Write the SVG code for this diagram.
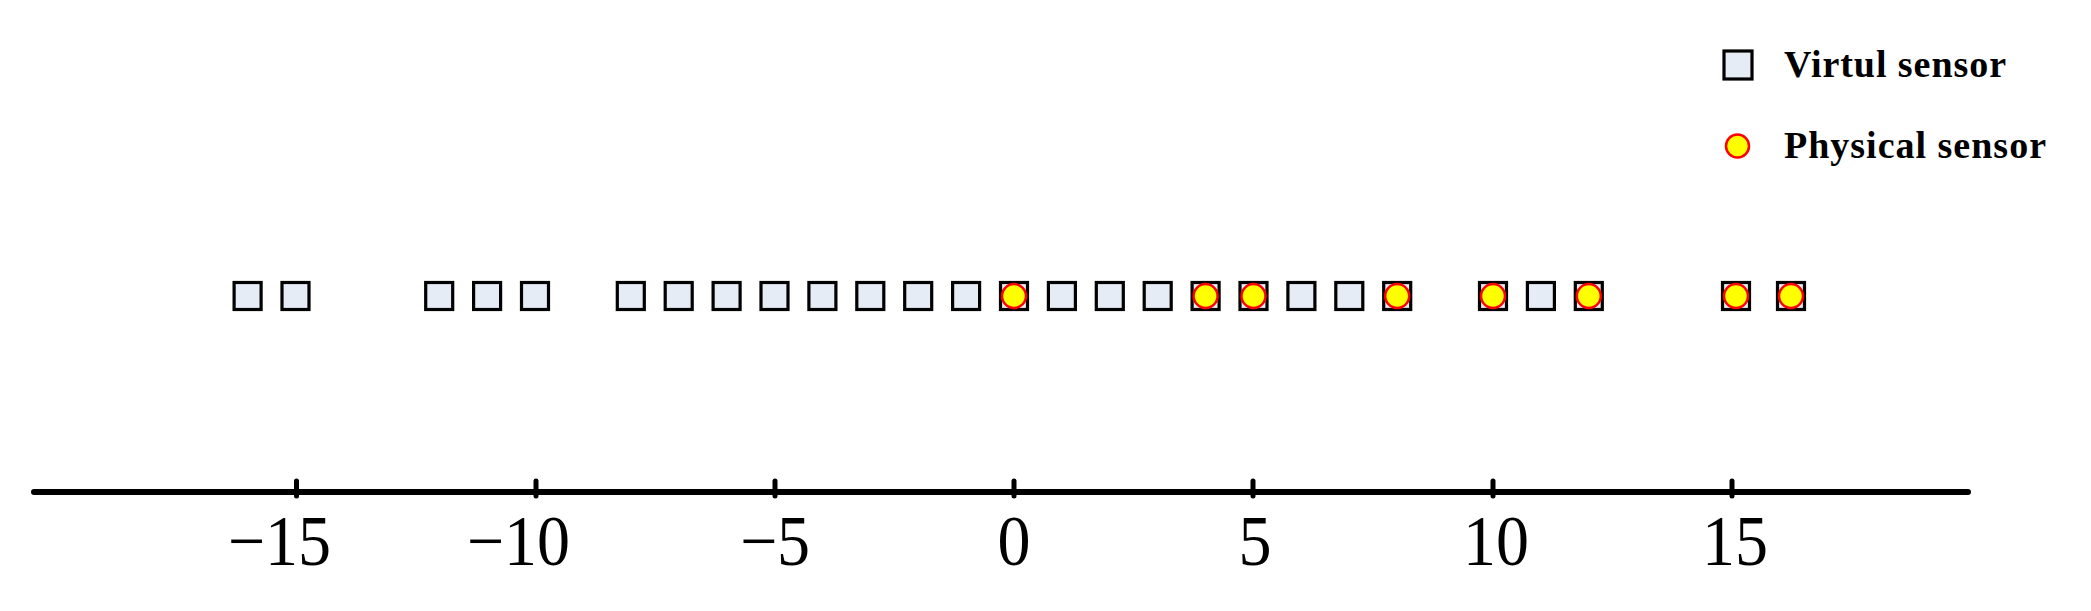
<svg xmlns="http://www.w3.org/2000/svg" width="2091" height="611" viewBox="0 0 2091 611">
<style>
.vs{fill:#E6ECF6;stroke:#000;stroke-width:3.2}
.ps{fill:#FFFF00;stroke:#FF0000;stroke-width:2.5}
.axis{stroke:#000;stroke-width:6;stroke-linecap:round;fill:none}
.tick{stroke:#000;stroke-width:5;stroke-linecap:round}
.tl{font-family:"Liberation Serif","Times New Roman",serif;font-size:71px;fill:#000}
.lg{font-family:"Liberation Serif","Times New Roman",serif;font-size:38px;font-weight:bold;fill:#000}
</style>
<defs>
<rect id="sq" x="-13.5" y="-13.5" width="27" height="27" class="vs"/>
<circle id="ci" r="12" class="ps"/>
</defs>
<rect width="2091" height="611" fill="#fff"/>
<g id="axis">
<line class="axis" x1="34" y1="492" x2="1968" y2="492"/>
<line class="tick" x1="296.5" y1="481" x2="296.5" y2="496"/>
<line class="tick" x1="536" y1="481" x2="536" y2="496"/>
<line class="tick" x1="775" y1="481" x2="775" y2="496"/>
<line class="tick" x1="1014" y1="481" x2="1014" y2="496"/>
<line class="tick" x1="1253" y1="481" x2="1253" y2="496"/>
<line class="tick" x1="1493" y1="481" x2="1493" y2="496"/>
<line class="tick" x1="1732" y1="481" x2="1732" y2="496"/>
<text class="tl" transform="translate(331 565) scale(0.93 1)" text-anchor="end">−15</text>
<text class="tl" transform="translate(570 565) scale(0.93 1)" text-anchor="end">−10</text>
<text class="tl" transform="translate(775 565) scale(0.93 1)" text-anchor="middle">−5</text>
<text class="tl" transform="translate(1014 565) scale(0.93 1)" text-anchor="middle">0</text>
<text class="tl" transform="translate(1255 565) scale(0.93 1)" text-anchor="middle">5</text>
<text class="tl" transform="translate(1496 565) scale(0.93 1)" text-anchor="middle">10</text>
<text class="tl" transform="translate(1735 565) scale(0.93 1)" text-anchor="middle">15</text>
</g>
<g id="virtual-sensors">
<use href="#sq" x="247.6" y="296"/>
<use href="#sq" x="295.5" y="296"/>
<use href="#sq" x="439.2" y="296"/>
<use href="#sq" x="487.1" y="296"/>
<use href="#sq" x="535" y="296"/>
<use href="#sq" x="630.8" y="296"/>
<use href="#sq" x="678.7" y="296"/>
<use href="#sq" x="726.6" y="296"/>
<use href="#sq" x="774.5" y="296"/>
<use href="#sq" x="822.4" y="296"/>
<use href="#sq" x="870.3" y="296"/>
<use href="#sq" x="918.2" y="296"/>
<use href="#sq" x="966.1" y="296"/>
<use href="#sq" x="1014" y="296"/>
<use href="#sq" x="1061.9" y="296"/>
<use href="#sq" x="1109.8" y="296"/>
<use href="#sq" x="1157.7" y="296"/>
<use href="#sq" x="1205.6" y="296"/>
<use href="#sq" x="1253.5" y="296"/>
<use href="#sq" x="1301.4" y="296"/>
<use href="#sq" x="1349.3" y="296"/>
<use href="#sq" x="1397.2" y="296"/>
<use href="#sq" x="1493" y="296"/>
<use href="#sq" x="1540.9" y="296"/>
<use href="#sq" x="1588.8" y="296"/>
<use href="#sq" x="1736" y="296"/>
<use href="#sq" x="1791" y="296"/>
</g>
<g id="physical-sensors">
<use href="#ci" x="1014" y="296"/>
<use href="#ci" x="1205.6" y="296"/>
<use href="#ci" x="1253.5" y="296"/>
<use href="#ci" x="1397.2" y="296"/>
<use href="#ci" x="1493" y="296"/>
<use href="#ci" x="1588.8" y="296"/>
<use href="#ci" x="1736" y="296"/>
<use href="#ci" x="1791" y="296"/>
</g>
<g id="legend-virtual">
<rect x="1724" y="51" width="28" height="28" class="vs"/>
<text class="lg" x="1784" y="77" textLength="222" lengthAdjust="spacing">Virtul sensor</text>
</g>
<g id="legend-physical">
<circle cx="1737.5" cy="146" r="11.5" class="ps"/>
<text class="lg" x="1784" y="158" textLength="262" lengthAdjust="spacing">Physical sensor</text>
</g>
</svg>
